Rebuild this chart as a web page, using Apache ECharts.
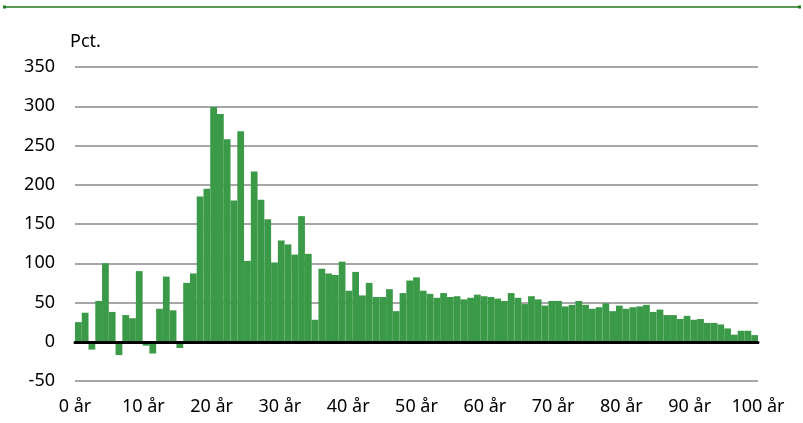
<!DOCTYPE html>
<html>
<head>
<meta charset="utf-8">
<script src="https://cdn.jsdelivr.net/npm/echarts@6/dist/echarts.min.js"></script>
<style>
html,body{margin:0;padding:0;background:#fff;}
#chart{width:803px;height:423px;}
</style>
</head>
<body>
<div id="chart"></div>
<script>
// Growth by age (Pct.), ages 0 to 100 år
const values = [
  25, 37, -10, 52, 100, 38, -17, 34, 30, 90,
  -5, -15, 42, 83, 40, -8, 75, 87, 185, 195,
  299, 290, 258, 180, 268, 103, 217, 181, 156, 101,
  129, 124, 111, 160, 112, 28, 93, 87, 85, 102,
  65, 89, 59, 75, 57, 57, 67, 39, 62, 78,
  82, 65, 61, 56, 62, 57, 58, 54, 56, 60,
  58, 57, 55, 52, 62, 56, 48, 58, 54, 46,
  52, 52, 45, 47, 52, 47, 42, 44, 49, 39,
  46, 42, 44, 45, 47, 38, 41, 34, 34, 29,
  33, 28, 29, 24, 24, 22, 17, 9, 14, 14,
  8.5
];
const ages = values.map((_, i) => String(i));
const yTicks = { min: -50, max: 350, interval: 50 };
const xTicks = { min: 0, max: 100, interval: 10 };
const yUnit = 'Pct.';
const xSuffix = ' år';

const FONT = 'Noto Sans';
const chart = echarts.init(document.getElementById('chart'), null, { renderer: 'canvas' });
chart.setOption({
  animation: false,
  backgroundColor: '#ffffff',
  grid: { left: 75, right: 45, top: 67, bottom: 42, containLabel: false },
  graphic: [
    { type: 'line', shape: { x1: 4, y1: 7, x2: 800, y2: 7 }, style: { stroke: '#1f7a1f', lineWidth: 1.5 } },
    { type: 'rect', shape: { x: 3, y: 5.5, width: 3, height: 3 }, style: { fill: '#1f7a1f' } },
    { type: 'rect', shape: { x: 798, y: 5.5, width: 3, height: 3 }, style: { fill: '#1f7a1f' } },
    { type: 'text', left: 70, top: 33, style: { text: yUnit, font: '18px "' + FONT + '"', fill: '#000' } }
  ],
  xAxis: [
    {
      type: 'category', data: ages, boundaryGap: true, z: 5,
      axisLine: { show: true, onZero: true, lineStyle: { color: '#000', width: 3 } },
      axisTick: { show: false }, axisLabel: { show: false }, splitLine: { show: false }
    },
    {
      type: 'value', position: 'bottom', min: xTicks.min, max: xTicks.max, interval: xTicks.interval,
      axisLine: { show: false, onZero: false }, axisTick: { show: false }, splitLine: { show: false },
      axisLabel: { show: true, margin: 17, color: '#000', fontFamily: FONT, fontSize: 18,
        formatter: v => v + xSuffix }
    }
  ],
  yAxis: {
    type: 'value', min: yTicks.min, max: yTicks.max, interval: yTicks.interval,
    axisLine: { show: false }, axisTick: { show: false },
    axisLabel: { margin: 20, color: '#000', fontFamily: FONT, fontSize: 18 },
    splitLine: { show: true, lineStyle: { color: '#a6a6a6', width: 2 } }
  },
  series: [{
    type: 'bar', data: values, xAxisIndex: 0,
    barCategoryGap: '0%',
    itemStyle: { color: '#3a9a48' }
  }]
});
</script>
</body>
</html>
